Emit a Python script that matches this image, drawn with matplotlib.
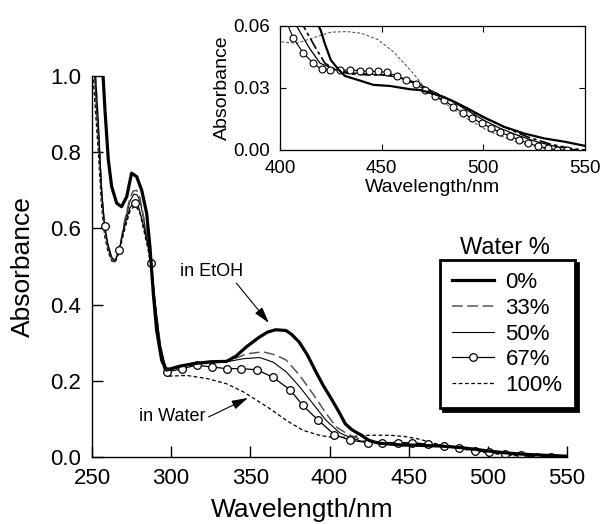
import matplotlib
matplotlib.use("Agg")
import matplotlib.pyplot as plt
from matplotlib.lines import Line2D

plt.rcParams['font.family'] = ['Liberation Sans', 'DejaVu Sans']

# ---- data (wavelength in nm, absorbance) ----
wl_0 = [256.5, 257, 258.2, 260.3, 262.4, 265.6, 268.7, 271.9, 275, 278.2, 281.4, 284.5,
        286.6, 288.7, 290.8, 294, 297, 305, 314, 325, 335, 341, 347.5, 355.8, 361, 366,
        372.5, 376, 380.8, 386, 391, 396, 401.7, 406, 410, 414, 418, 420, 422, 425, 429,
        432, 438, 446, 454, 464, 469, 475, 484, 492, 500, 510, 520, 530, 540, 550]
ab_0 = [1.05, 1.0, 0.91, 0.78, 0.71, 0.666, 0.657, 0.683, 0.745, 0.736, 0.70, 0.64,
        0.552, 0.43, 0.333, 0.254, 0.228, 0.238, 0.245, 0.25, 0.251, 0.265, 0.289, 0.315,
        0.328, 0.334, 0.332, 0.322, 0.302, 0.268, 0.227, 0.188, 0.149, 0.118, 0.087,
        0.072, 0.062, 0.058, 0.0516, 0.0435, 0.0387, 0.0358, 0.034, 0.0315, 0.031,
        0.0294, 0.029, 0.0274, 0.0242, 0.0202, 0.016, 0.0113, 0.008, 0.0056, 0.004,
        0.002]

wl_33 = [251.5, 253.5, 255, 256, 258, 260, 262.4, 264.5, 267.3, 270.8, 274, 276, 278.2,
         280.3, 283.5, 285.6, 287.7, 290, 293, 296, 300, 310, 320, 330, 340, 347.7,
         358.2, 366.5, 372.8, 381.2, 389.5, 397.9, 404.2, 411.5, 417.2, 422.1, 427.9,
         434.4, 444.3, 454.1, 462.3, 470.5, 480.3, 490.2, 500, 509.8, 521.3, 532.8,
         542.6, 550]
ab_33 = [1.05, 0.9, 0.78, 0.69, 0.6, 0.55, 0.52, 0.513, 0.545, 0.625, 0.68, 0.698, 0.70,
         0.68, 0.61, 0.555, 0.5, 0.4, 0.3, 0.235, 0.232, 0.24, 0.245, 0.248, 0.258, 0.271,
         0.276, 0.267, 0.254, 0.214, 0.166, 0.114, 0.079, 0.06, 0.05, 0.042, 0.0384,
         0.0368, 0.0363, 0.0363, 0.0339, 0.0303, 0.0258, 0.021, 0.0158, 0.0113, 0.0065,
         0.0029, 0.0008, 0.0]

wl_50 = [251, 253, 255, 256.5, 258, 260, 262.4, 264.5, 267.3, 270.8, 274, 276.5, 278.5,
         280.5, 283.5, 285.6, 287.7, 290, 293, 296, 300, 310, 320, 330, 338, 345.6, 356,
         364.4, 372.8, 381.2, 389.5, 397.9, 406.3, 408.2, 414, 419.7, 427.9, 434.4, 442.6,
         450.8, 459, 467.2, 473.8, 483.6, 491.8, 500, 508.2, 516.4, 526.2, 536, 546]
ab_50 = [1.05, 0.9, 0.78, 0.68, 0.6, 0.55, 0.52, 0.512, 0.543, 0.62, 0.672, 0.69, 0.688,
         0.67, 0.605, 0.552, 0.5, 0.4, 0.3, 0.233, 0.23, 0.24, 0.245, 0.248, 0.252, 0.258,
         0.261, 0.249, 0.223, 0.184, 0.14, 0.096, 0.064, 0.06, 0.05, 0.042, 0.0387,
         0.0374, 0.0368, 0.0363, 0.035, 0.0326, 0.029, 0.0242, 0.0194, 0.0145, 0.0105,
         0.0073, 0.004, 0.0016, 0.0]

# 67 %: line and its circle markers
wl_67 = [251.5, 254, 256, 258, 260, 262.4, 264.5, 267, 270.8, 274, 277, 279.5, 283, 285.6,
         287, 290, 293, 297.5, 307, 316, 326, 335, 344, 354, 364, 375, 383, 393, 403,
         413, 424, 433, 443, 452, 462, 472, 482, 492, 501, 511, 521, 531, 540, 545]
ab_67 = [1.05, 0.88, 0.7, 0.607, 0.56, 0.525, 0.515, 0.542, 0.61, 0.655, 0.666, 0.655,
         0.6, 0.55, 0.508, 0.4, 0.29, 0.223, 0.232, 0.241, 0.236, 0.232, 0.232, 0.229,
         0.21, 0.177, 0.136, 0.096, 0.059, 0.044, 0.038, 0.038, 0.038, 0.037, 0.034,
         0.029, 0.024, 0.017, 0.012, 0.008, 0.004, 0.001, 0.0, 0.0]
wl_67_pts = [258, 267, 277, 287, 297.5, 307, 316, 326, 335, 344, 354, 364, 375, 383, 393,
             403, 413, 424, 433, 443, 452, 462, 472, 482, 492, 501, 511, 521, 531, 540]
ab_67_pts = [0.607, 0.542, 0.666, 0.508, 0.223, 0.232, 0.241, 0.236, 0.232, 0.232, 0.229,
             0.21, 0.177, 0.136, 0.096, 0.059, 0.044, 0.038, 0.038, 0.038, 0.037, 0.034,
             0.029, 0.024, 0.017, 0.012, 0.008, 0.004, 0.001, 0.0]

wl_100 = [250, 252, 254, 256, 258, 260, 262.4, 264.5, 267, 270.8, 274, 277, 280, 283,
          285.6, 288, 291, 294, 297, 310, 322.6, 335.1, 345.6, 354, 362.3, 372.8, 383.3,
          393.7, 400, 404.2, 408, 418, 425, 432.8, 440, 448, 455.7, 461, 465.6, 470.5,
          480, 491.8, 503, 516, 529.5, 536]
ab_100 = [1.04, 0.92, 0.8, 0.66, 0.58, 0.54, 0.515, 0.51, 0.535, 0.6, 0.645, 0.66, 0.645,
          0.59, 0.54, 0.47, 0.35, 0.25, 0.212, 0.214, 0.206, 0.192, 0.171, 0.149, 0.127,
          0.096, 0.07, 0.057, 0.0524, 0.052, 0.0516, 0.0548, 0.057, 0.0573, 0.0565,
          0.0535, 0.0476, 0.042, 0.037, 0.031, 0.0234, 0.0153, 0.0089, 0.004, 0.0008,
          0.0]

# inset circles are denser than in the main plot
wl_67_in = [404, 406.6, 411.5, 416.4, 420.5, 424.6, 429.5, 434.4, 439.3, 443.8, 448.4,
            452.5, 457.4, 462, 466.7, 471.3, 476.2, 480.7, 485.2, 490.2, 494.3, 499.5,
            504, 508.2, 513.1, 517.7, 522, 527, 531.6, 536, 541]
ab_67_in = [0.06, 0.054, 0.0468, 0.042, 0.039, 0.0387, 0.0387, 0.0387, 0.0384, 0.038,
            0.038, 0.0376, 0.0358, 0.0339, 0.032, 0.029, 0.026, 0.024, 0.021, 0.0177,
            0.0153, 0.0129, 0.0105, 0.0085, 0.0068, 0.0048, 0.0032, 0.0019, 0.0008, 0.0,
            0.0]

labels = ['0%', '33%', '50%', '67%', '100%']

W, H = 605, 524
fig = plt.figure(figsize=(W / 100, H / 100), dpi=100)
ax = fig.add_axes([92 / W, 67 / H, 475 / W, 381 / H])

style_0 = dict(color='black', lw=2.3)
style_33 = dict(color='#555555', lw=1.1, dashes=(7, 3))
style_50 = dict(color='black', lw=0.8)
style_67 = dict(color='black', lw=0.9)
style_100 = dict(color='black', lw=0.9, dashes=(3, 2))
mk = dict(marker='o', ms=5.5, mfc='white', mec='black', mew=0.9, ls='none')

ax.plot(wl_100, ab_100, **style_100)
ax.plot(wl_50, ab_50, **style_50)
ax.plot(wl_33, ab_33, **style_33)
ax.plot(wl_67, ab_67, **style_67)
ax.plot(wl_67_pts, ab_67_pts, **mk)
ax.plot(wl_0, ab_0, **style_0)

ax.set_xlim(250, 550)
ax.set_ylim(0, 1.0)
ax.set_xticks([250, 300, 350, 400, 450, 500, 550])
ax.set_yticks([0, 0.2, 0.4, 0.6, 0.8, 1.0])
ax.set_yticklabels(['0.0', '0.2', '0.4', '0.6', '0.8', '1.0'])
ax.spines['top'].set_visible(False)
ax.spines['right'].set_visible(False)
for s in ['left', 'bottom']:
    ax.spines[s].set_linewidth(1.0)
ax.tick_params(direction='in', length=8, width=1, labelsize=16, pad=8)
ax.set_xlabel('Wavelength/nm', fontsize=19)
ax.xaxis.set_label_coords((302 - 92) / 475, -(510 - 457) / 381)
ax.xaxis.label.set_va('center')
ax.set_ylabel('Absorbance', fontsize=19)
ax.yaxis.set_label_coords(-(92 - 23) / 475, 0.5)
ax.yaxis.label.set_va('center')

arrow = dict(arrowstyle='-|>,head_length=0.7,head_width=0.2', color='black', lw=0.8,
             shrinkA=0, shrinkB=0, mutation_scale=14)
ax.annotate('in EtOH', xy=(361.7, 0.352), xytext=(325.8, 0.486), fontsize=13,
            ha='center', va='center', arrowprops=dict(arrow, relpos=(0.85, 0.0)))
ax.annotate('in Water', xy=(348.5, 0.155), xytext=(300.5, 0.105), fontsize=13,
            ha='center', va='center', arrowprops=dict(arrow, relpos=(1.05, 0.5)))

handles = [Line2D([], [], **style_0), Line2D([], [], **style_33),
           Line2D([], [], **style_50),
           Line2D([], [], marker='o', ms=5.5, mfc='white', mec='black', mew=0.9,
                  **style_67),
           Line2D([], [], **style_100)]
leg = ax.legend(handles, labels, loc='upper left',
                bbox_to_anchor=(440 / W, 1 - 260 / H), bbox_transform=fig.transFigure,
                borderaxespad=0, fancybox=False, framealpha=1, edgecolor='black',
                shadow={'color': 'black', 'alpha': 1}, fontsize=16,
                handlelength=1.9, handletextpad=0.5, labelspacing=0.21, borderpad=0.55)
leg.get_frame().set_linewidth(2)
fig.text(505 / W, 1 - 248 / H, 'Water %', fontsize=17, ha='center', va='center')

# ---- inset: zoom on 400-550 nm ----
axi = fig.add_axes([280 / W, 1 - 150 / H, 305 / W, 124 / H])
axi.plot(wl_100, ab_100, color='#444444', lw=0.7, dashes=(3, 2))
axi.plot(wl_50, ab_50, color='black', lw=0.9)
axi.plot(wl_33, ab_33, color='black', lw=1.2, dashes=(7, 2, 2, 2))
axi.plot(wl_67_in, ab_67_in, color='black', lw=0.8, marker='o', ms=5, mfc='white',
         mec='black', mew=0.8, markevery=list(range(1, len(wl_67_in))))
axi.plot(wl_0, ab_0, color='black', lw=1.6)
axi.set_xlim(400, 550)
axi.set_ylim(0, 0.06)
axi.set_xticks([400, 450, 500, 550])
axi.set_yticks([0, 0.03, 0.06])
axi.set_yticklabels(['0.00', '0.03', '0.06'])
axi.tick_params(direction='in', length=4, width=0.8, labelsize=13.5, pad=7,
                top=True, right=True)
for s in axi.spines.values():
    s.set_linewidth(0.9)
axi.set_xlabel('Wavelength/nm', fontsize=14)
axi.xaxis.set_label_coords(0.5, -(188 - 150) / 124)
axi.xaxis.label.set_va('center')
axi.set_ylabel('Absorbance', fontsize=14)
axi.yaxis.set_label_coords(-(280 - 222) / 305, 0.5)
axi.yaxis.label.set_va('center')

fig.savefig('out.png', dpi=100)
